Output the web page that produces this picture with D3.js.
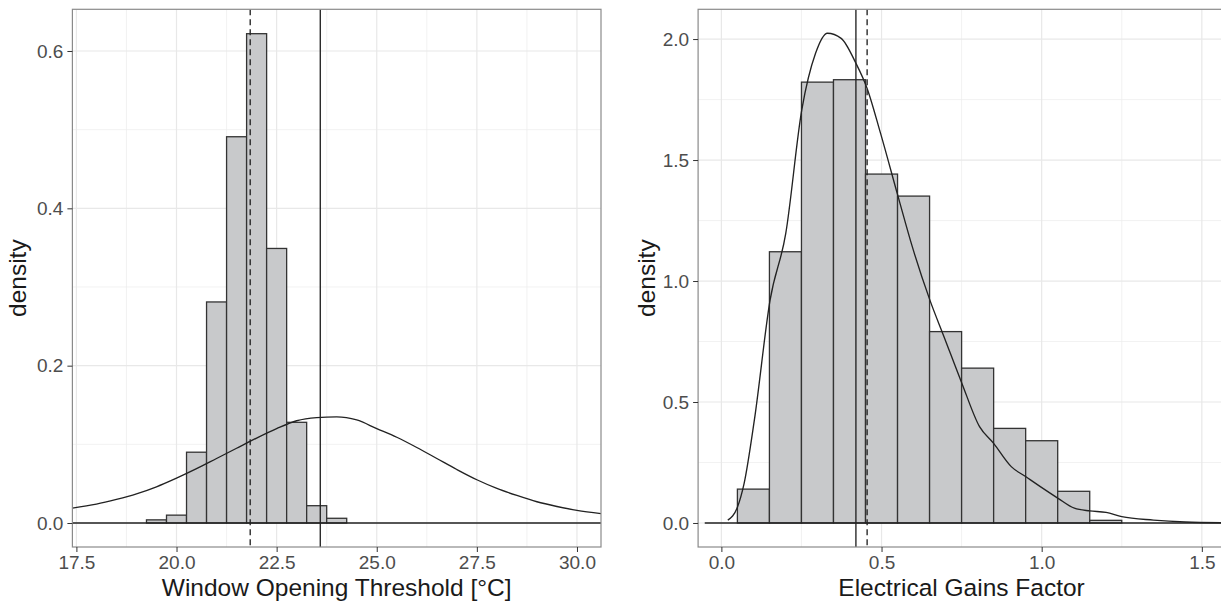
<!DOCTYPE html>
<html>
<head>
<meta charset="utf-8">
<script src="https://d3js.org/d3.v7.min.js"></script>
<style>
	body { margin: 0; background: #fff; }
	svg { display: block; font-family: "Liberation Sans", Arial, sans-serif; }
	.grid-major { stroke: #e8e8e8; stroke-width: 1.2px; }
	.grid-minor { stroke: #ededed; stroke-width: 0.7px; }
	.border { fill: none; stroke: #8a8a8a; stroke-width: 1.2px; }
	.bar { fill: #c8c9cb; stroke: #333; stroke-width: 1.3px; }
	.dens { fill: none; stroke: #222; stroke-width: 1.35px; }
	.tick text { fill: #4d4d4d; font-size: 19px; }
	.tick line { stroke: #333; }
	.axis path { display: none; }
	.axtitle { fill: #1a1a1a; font-size: 24.5px; text-anchor: middle; }
</style>
</head>
<body>
<script>

// ---- left panel: window opening threshold ----
var leftBinCenters = [19.5, 20.0, 20.5, 21.0, 21.5, 22.0, 22.5, 23.0, 23.5, 24.0];
var leftBinDensity = [0.004, 0.010, 0.090, 0.281, 0.491, 0.622, 0.349, 0.128, 0.022, 0.006];
var leftBinWidth = 0.5;
var leftCurveX = [17.4, 18, 18.5, 19, 19.5, 20, 20.5, 21, 21.5, 22, 22.5, 23, 23.5, 24, 24.5, 25, 25.5, 26, 26.5, 27, 27.5, 28, 28.5, 29, 29.5, 30, 30.6];
var leftCurveY = [0.019, 0.024, 0.030, 0.037, 0.046, 0.057, 0.069, 0.082, 0.095, 0.108, 0.120, 0.130, 0.134, 0.135, 0.131, 0.120, 0.109, 0.096, 0.082, 0.068, 0.055, 0.044, 0.035, 0.027, 0.021, 0.016, 0.012];
var leftDashed = 21.84, leftSolid = 23.59;
var leftXTicks = [17.5, 20.0, 22.5, 25.0, 27.5, 30.0];
var leftYTicks = [0.0, 0.2, 0.4, 0.6];

// ---- right panel: electrical gains factor ----
var rightBinCenters = [0.1, 0.2, 0.3, 0.4, 0.5, 0.6, 0.7, 0.8, 0.9, 1.0, 1.1, 1.2];
var rightBinDensity = [0.140, 1.121, 1.822, 1.832, 1.442, 1.351, 0.791, 0.640, 0.391, 0.340, 0.131, 0.011];
var rightBinWidth = 0.1;
var rightCurveX = [0.020, 0.050, 0.071, 0.103, 0.152, 0.201, 0.251, 0.294, 0.331, 0.374, 0.420, 0.455, 0.497, 0.552, 0.596, 0.651, 0.695, 0.751, 0.806, 0.850, 0.905, 0.951, 1.004, 1.051, 1.102, 1.150, 1.201, 1.250, 1.349, 1.448, 1.560];
var rightCurveY = [0.012, 0.065, 0.164, 0.426, 0.921, 1.197, 1.707, 1.941, 2.024, 2.003, 1.900, 1.796, 1.610, 1.348, 1.142, 0.921, 0.770, 0.577, 0.398, 0.329, 0.233, 0.191, 0.143, 0.102, 0.061, 0.050, 0.044, 0.026, 0.012, 0.004, 0.001];
var rightDashed = 0.455, rightSolid = 0.42;
var rightXTicks = [0.0, 0.5, 1.0, 1.5];
var rightYTicks = [0.0, 0.5, 1.0, 1.5, 2.0];

var W = 1221, H = 603;
var svg = d3.select("body").append("svg").attr("width", W).attr("height", H);

function panel(o) {
	var x = d3.scaleLinear().domain(o.xdom).range([o.left, o.right]);
	var y = d3.scaleLinear().domain(o.ydom).range([o.bottom, o.top]);
	var g = svg.append("g");

	var clipId = "clip" + o.id;
	svg.append("clipPath").attr("id", clipId).append("rect")
		.attr("x", o.left).attr("y", o.top)
		.attr("width", o.right - o.left).attr("height", o.bottom - o.top);

	var inner = g.append("g").attr("clip-path", "url(#" + clipId + ")");

	// minor grid (midpoints between major ticks)
	var xs = o.xticks, ys = o.yticks;
	var xMinor = [xs[0] - (xs[1] - xs[0]) / 2].concat(xs.map(function(v) { return v + (xs[1] - xs[0]) / 2; }));
	var yMinor = [ys[0] - (ys[1] - ys[0]) / 2].concat(ys.map(function(v) { return v + (ys[1] - ys[0]) / 2; }));
	inner.selectAll(".gxm").data(xMinor).enter().append("line").attr("class", "grid-minor")
		.attr("x1", x).attr("x2", x).attr("y1", o.top).attr("y2", o.bottom);
	inner.selectAll(".gym").data(yMinor).enter().append("line").attr("class", "grid-minor")
		.attr("y1", y).attr("y2", y).attr("x1", o.left).attr("x2", o.right);
	inner.selectAll(".gx").data(xs).enter().append("line").attr("class", "grid-major")
		.attr("x1", x).attr("x2", x).attr("y1", o.top).attr("y2", o.bottom);
	inner.selectAll(".gy").data(ys).enter().append("line").attr("class", "grid-major")
		.attr("y1", y).attr("y2", y).attr("x1", o.left).attr("x2", o.right);

	// bars
	inner.selectAll(".bar").data(o.centers).enter().append("rect").attr("class", "bar")
		.attr("x", function(d) { return x(d - o.bw / 2); })
		.attr("width", function(d) { return x(d + o.bw / 2) - x(d - o.bw / 2); })
		.attr("y", function(d, i) { return y(o.dens[i]); })
		.attr("height", function(d, i) { return y(0) - y(o.dens[i]); });

	// baseline
	inner.append("line").attr("class", "dens")
		.attr("x1", x(o.baseFrom)).attr("x2", o.right)
		.attr("y1", y(0)).attr("y2", y(0));

	// density curve
	var line = d3.line().x(function(d) { return x(d[0]); }).y(function(d) { return y(d[1]); })
		.curve(d3.curveMonotoneX);
	inner.append("path").attr("class", "dens")
		.attr("d", line(o.cx.map(function(v, i) { return [v, o.cy[i]]; })));

	// vertical lines
	inner.append("line").attr("class", "dens")
		.attr("x1", x(o.solid)).attr("x2", x(o.solid)).attr("y1", o.top).attr("y2", o.bottom);
	inner.append("line").attr("class", "dens").style("stroke-dasharray", "6,4")
		.attr("x1", x(o.dashed)).attr("x2", x(o.dashed)).attr("y1", o.top).attr("y2", o.bottom);

	g.append("rect").attr("class", "border")
		.attr("x", o.left).attr("y", o.top)
		.attr("width", o.right - o.left).attr("height", o.bottom - o.top);

	// axes
	g.append("g").attr("class", "axis").attr("transform", "translate(0," + o.bottom + ")")
		.call(d3.axisBottom(x).tickValues(xs).tickFormat(d3.format(".1f")).tickSize(5).tickPadding(4));
	g.append("g").attr("class", "axis").attr("transform", "translate(" + o.left + ",0)")
		.call(d3.axisLeft(y).tickValues(ys).tickFormat(d3.format(".1f")).tickSize(5).tickPadding(4));

	g.append("text").attr("class", "axtitle")
		.attr("x", (o.left + Math.min(o.right, W)) / 2 + o.titleShift).attr("y", 596)
		.text(o.xtitle);
	g.append("text").attr("class", "axtitle")
		.attr("transform", "translate(" + (o.left - o.ytitleOff) + "," + ((o.top + o.bottom) / 2) + ") rotate(-90)")
		.text("density");
}

panel({
	id: "L", left: 72.4, right: 601, top: 9.3, bottom: 547,
	xdom: [17.4, 30.6], ydom: [-0.0305, 0.653],
	xticks: leftXTicks, yticks: leftYTicks,
	centers: leftBinCenters, dens: leftBinDensity, bw: leftBinWidth,
	cx: leftCurveX, cy: leftCurveY,
	solid: leftSolid, dashed: leftDashed, baseFrom: 17.4,
	xtitle: "Window Opening Threshold [°C]", titleShift: 0, ytitleOff: 46
});

panel({
	id: "R", left: 698.1, right: 1223, top: 9.3, bottom: 547,
	xdom: [-0.0727, 1.5661], ydom: [-0.0992, 2.123],
	xticks: rightXTicks, yticks: rightYTicks,
	centers: rightBinCenters, dens: rightBinDensity, bw: rightBinWidth,
	cx: rightCurveX, cy: rightCurveY,
	solid: rightSolid, dashed: rightDashed, baseFrom: -0.052,
	xtitle: "Electrical Gains Factor", titleShift: 2, ytitleOff: 43
});
</script>
</body>
</html>
